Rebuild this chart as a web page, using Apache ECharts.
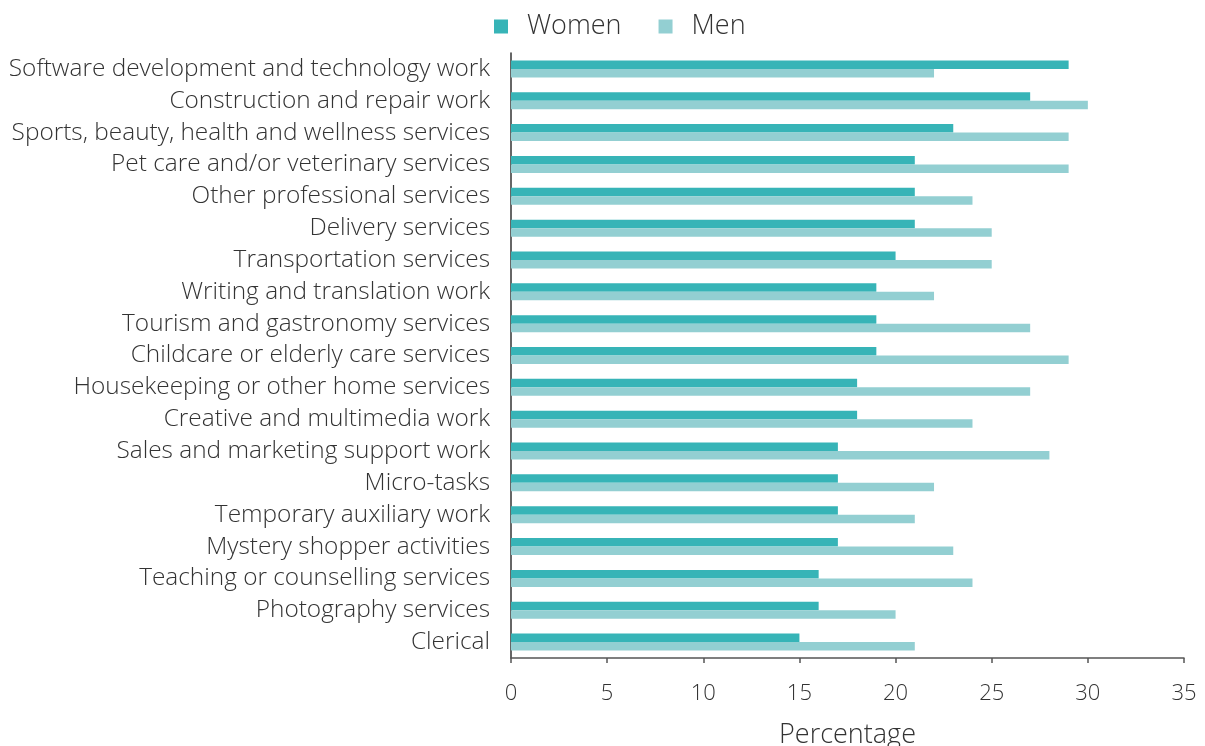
<!DOCTYPE html>
<html><head><meta charset="utf-8">
<script src="https://cdn.jsdelivr.net/npm/echarts@6/dist/echarts.min.js"></script>
<style>html,body{margin:0;padding:0;background:#fff}#c{width:1205px;height:746px}</style>
</head><body><div id="c"></div>
<script>
const categories = ["Software development and technology work","Construction and repair work","Sports, beauty, health and wellness services","Pet care and/or veterinary services","Other professional services","Delivery services","Transportation services","Writing and translation work","Tourism and gastronomy services","Childcare or elderly care services","Housekeeping or other home services","Creative and multimedia work","Sales and marketing support work","Micro-tasks","Temporary auxiliary work","Mystery shopper activities","Teaching or counselling services","Photography services","Clerical"];
const women = [29,27,23,21,21,21,20,19,19,19,18,18,17,17,17,17,16,16,15];
const men = [22,30,29,29,24,25,25,22,27,29,27,24,28,22,21,23,24,20,21];
const FONT = '"Open Sans", sans-serif';
const chart = echarts.init(document.getElementById('c'), null, {renderer:'canvas'});
chart.setOption({
  animation:false,
  textStyle:{fontFamily:FONT},
  legend:{top:8,left:489,itemWidth:14,itemHeight:14,itemGap:37,icon:'rect',
    textStyle:{fontFamily:FONT,fontWeight:300,fontSize:27,color:'#333',padding:[0,0,0,14]},
    data:['Women','Men']},
  grid:{left:511,right:21,top:53,bottom:88,containLabel:false,outerBoundsMode:'none'},
  xAxis:{type:'value',min:0,max:35,interval:5,
    name:'Percentage',nameLocation:'middle',nameGap:64,
    nameTextStyle:{fontFamily:FONT,fontWeight:300,fontSize:27,color:'#333'},
    axisLine:{show:true,lineStyle:{color:'#555',width:1.5}},
    axisTick:{show:true,length:5,lineStyle:{color:'#555',width:1.5}},
    axisLabel:{fontFamily:FONT,fontWeight:300,fontSize:22,color:'#333',margin:25},
    splitLine:{show:false}},
  yAxis:{type:'category',data:categories,inverse:true,
    axisLine:{show:true,lineStyle:{color:'#333',width:1.5}},
    axisTick:{show:false},
    axisLabel:{interval:0,fontFamily:FONT,fontWeight:300,fontSize:24.4,color:'#333',margin:21,padding:[0,0,5,0]}},
  series:[
    {name:'Women',type:'bar',data:women,barWidth:8.5,barGap:'0%',itemStyle:{color:'#37b4b7'}},
    {name:'Men',type:'bar',data:men,barWidth:8.5,barGap:'0%',itemStyle:{color:'#93cfd2'}}
  ]
});
</script></body></html>
